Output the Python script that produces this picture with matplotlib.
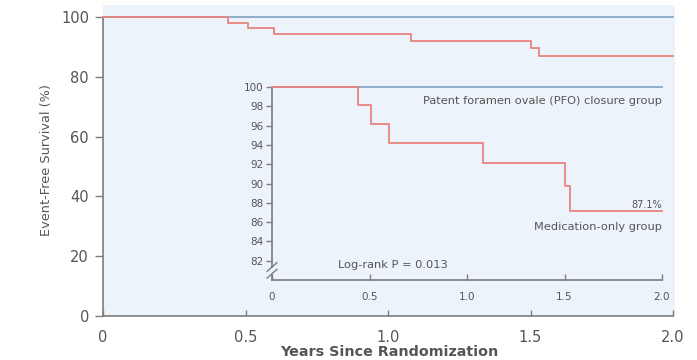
import matplotlib.pyplot as plt

plt.rcParams["font.family"] = ["DejaVu Sans"]

# Kaplan-Meier style step data (years, % event-free)
years_pfo = [0.0, 2.0]
surv_pfo = [100.0, 100.0]
years_med = [0.0, 0.44, 0.51, 0.60, 1.08, 1.50, 1.53, 2.0]
surv_med = [100.0, 98.1, 96.2, 94.2, 92.1, 89.7, 87.1, 87.1]

main_xticks = [0, 0.5, 1.0, 1.5, 2.0]
main_xlabels = ["0", "0.5", "1.0", "1.5", "2.0"]
main_yticks = [0, 20, 40, 60, 80, 100]
inset_xticks = [0, 0.5, 1.0, 1.5, 2.0]
inset_xlabels = ["0", "0.5", "1.0", "1.5", "2.0"]
inset_yticks = [82, 84, 86, 88, 90, 92, 94, 96, 98, 100]

BG = "#edf3fa"
BLUE = "#8aa8c6"
RED = "#e9837f"
SPINE = "#7d7d7d"
TXT = "#555555"

fig = plt.figure(figsize=(6.97, 3.6), dpi=100)
fig.patch.set_facecolor("white")

# main axes
ax = fig.add_axes([103 / 697, 1 - 316 / 360, 572 / 697, 311 / 360])
ax.set_facecolor(BG)
ax.step(years_pfo, surv_pfo, where="post", color=BLUE, lw=1.3, clip_on=False, zorder=3)
ax.step(years_med, surv_med, where="post", color=RED, lw=1.3, clip_on=False, zorder=3)
ax.set_xlim(0, 2.007)
ax.set_ylim(0, 104)
for s in ["top", "right"]:
    ax.spines[s].set_visible(False)
for s in ["left", "bottom"]:
    ax.spines[s].set_color(SPINE)
    ax.spines[s].set_linewidth(1.2)
ax.spines["left"].set_bounds(0, 100)
ax.spines["bottom"].set_bounds(0, 2.0)
ax.set_xticks(main_xticks)
ax.set_xticklabels(main_xlabels)
ax.set_yticks(main_yticks)
ax.tick_params(axis="y", direction="out", length=6, width=1, color=SPINE,
               labelsize=10.5, labelcolor=TXT, pad=4)
ax.tick_params(axis="x", direction="in", length=4, width=1, color=SPINE,
               labelsize=10.5, labelcolor=TXT, pad=10)
ax.set_ylabel("Event-Free Survival (%)", fontsize=9.3, color=TXT, labelpad=6)
ax.set_xlabel("Years Since Randomization", fontsize=10.3, fontweight="bold",
              color=TXT, labelpad=0)

# inset axes (zoomed 80-100)
ins = fig.add_axes([272 / 697, 1 - 280 / 360, 390 / 697, 193 / 360])
ins.set_facecolor("none")
ins.step(years_pfo, surv_pfo, where="post", color=BLUE, lw=1.3, clip_on=False, zorder=3)
ins.step(years_med, surv_med, where="post", color=RED, lw=1.3, clip_on=False, zorder=3)
ins.set_xlim(0, 2.0)
ins.set_ylim(80, 100)
for s in ["top", "right"]:
    ins.spines[s].set_visible(False)
for s in ["left", "bottom"]:
    ins.spines[s].set_color(SPINE)
    ins.spines[s].set_linewidth(1.2)
ins.set_xticks(inset_xticks)
ins.set_xticklabels(inset_xlabels)
ins.set_yticks(inset_yticks)
ins.tick_params(axis="y", direction="out", length=4, width=1, color=SPINE,
                labelsize=7.5, labelcolor=TXT, pad=2)
ins.tick_params(axis="x", direction="in", length=4, width=1, color=SPINE,
                labelsize=7.5, labelcolor=TXT, pad=9)

# axis break marker on the inset y axis
for dy in (-0.35, 0.35):
    ins.plot([-0.025, 0.025], [81.0 + dy - 0.45, 81.0 + dy + 0.45],
             color=SPINE, lw=1, clip_on=False, zorder=4)
ins.plot([0, 0], [80.85, 81.15], color=BG, lw=2.5, clip_on=False, zorder=3.5)

ins.text(2.0, 98.5, "Patent foramen ovale (PFO) closure group", ha="right",
         va="center", fontsize=8.2, color=TXT)
ins.text(2.0, 87.8, "87.1%", ha="right", va="center", fontsize=7, color=TXT)
ins.text(2.0, 85.5, "Medication-only group", ha="right", va="center",
         fontsize=8.2, color=TXT)
ins.text(0.34, 81.6, "Log-rank P = 0.013", ha="left", va="center",
         fontsize=8.2, color=TXT)

fig.savefig("out.png", dpi=100)
